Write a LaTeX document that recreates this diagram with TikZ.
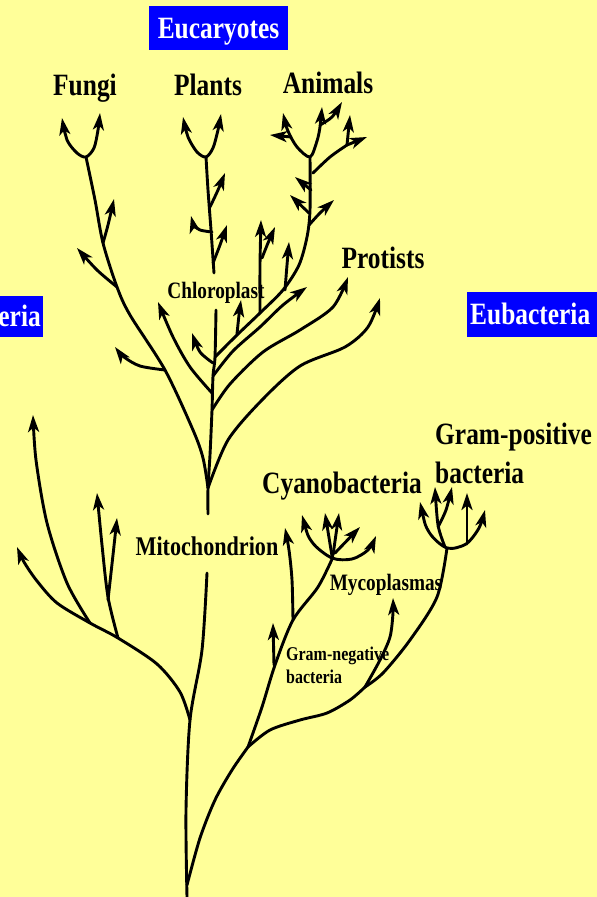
\documentclass[tikz,border=0pt]{standalone}
\usepackage{fontspec}
\setmainfont{Liberation Serif}[FakeStretch=0.82]
\usepackage{tikz}
\usetikzlibrary{arrows.meta}

\definecolor{slideyellow}{RGB}{255,255,153}
\definecolor{titleblue}{RGB}{0,0,255}

\tikzset{
  branch/.style={line width=2.9pt, line cap=round, line join=round},
  twig/.style={branch, -{Stealth[length=17pt,width=11pt,inset=4.5pt]}},
  fork/.style={branch, {Stealth[length=17pt,width=11pt,inset=4.5pt]}-{Stealth[length=17pt,width=11pt,inset=4.5pt]}},
  bigname/.style={font=\fontsize{31}{39}\selectfont\bfseries, inner sep=0pt, anchor=base},
  smallname/.style={font=\fontsize{23.5}{27}\selectfont\bfseries, inner sep=0pt, anchor=base},
  domainbox/.style={fill=titleblue, text=white, font=\fontsize{31}{36}\selectfont\bfseries,
    text height=20.5pt, text depth=0pt, inner ysep=12pt, inner xsep=3pt}
}

\begin{document}
\begin{tikzpicture}[x=1pt,y=-1pt]
\fill[slideyellow] (0,0) rectangle (597,897);
\clip (0,0) rectangle (597,897);

% junctions
\coordinate (root) at (187,897);
\coordinate (archfork) at (190,720);
\coordinate (bactfork) at (248,747);
\coordinate (cyfork) at (293,620);
\coordinate (myfork) at (365,687);
\coordinate (eukfork) at (208,488);
\coordinate (anfork) at (215,357);

% domains
\node[domainbox, minimum width=139pt] (euk) at (218.5,28) {Eucaryotes};
\node[domainbox, anchor=west, text width=124pt, align=left] (eub) at (467,314.5) {Eubacteria};
\fill[titleblue] (0,296) rectangle (43,337);
\node[domainbox, fill=none, anchor=east, inner xsep=0pt] (arc) at (41,316.5) {eria};

% labels
\node[bigname] (fungi) at (85,95) {Fungi};
\node[bigname] (plants) at (208,95) {Plants};
\node[bigname] (animals) at (328,93) {Animals};
\node[bigname] (protists) at (383,268) {Protists};
\node[bigname] (cyano) at (342,493) {Cyanobacteria};
\node[bigname, anchor=north west, align=left] (gpos) at (435,422.5) {Gram-positive\\bacteria};
\node[smallname] (chloro) at (216,298) {Chloroplast};
\node[smallname] (myco) at (386,590) {Mycoplasmas};
\node[smallname, font=\fontsize{27}{30}\selectfont\bfseries] (mito) at (207,555) {Mitochondrion};
\node[smallname, font=\fontsize{19.5}{23}\selectfont\bfseries, anchor=north west, align=left] (gneg) at (286,646.5) {Gram-negative\\bacteria};

% trunk
\draw[branch] plot[smooth] coordinates {(root) (186,810) (archfork) (202,650) (207,573)};
\draw[branch] plot[smooth] coordinates {(208,514) (eukfork) (210,455) (212,410) (213,376) (anfork) (216,310)};
\draw[branch] plot[smooth] coordinates {(214,273) (211,230) (208,190) (206,157)};

% archaebacteria
\draw[twig] plot[smooth] coordinates {(archfork) (180,692) (157,664) (118,638) (90,623) (57,603) (37,581) (24,562) (17,547)};
\draw[twig] plot[smooth] coordinates {(90,623) (67,583) (47,523) (36,460) (33,415)};
\draw[twig] plot[smooth] coordinates {(118,638) (108,597) (102,545) (97,493)};
\draw[twig] plot[smooth] coordinates {(108,600) (113,555) (117,518)};

% eubacteria
\draw[branch] plot[smooth] coordinates {(187,885) (200,838) (215,800) (232,770) (bactfork)};
\draw[branch] plot[smooth] coordinates {(bactfork) (262,707) (275,665) (cyfork) (318,587) (333,557)};
\draw[twig] (274,665) -- (273,623);
\draw[twig] plot[smooth] coordinates {(cyfork) (292,580) (289,550) (285,528)};
\draw[fork] plot[smooth] coordinates {(302,515) (312,542) (332,558) (352,559) (368,550) (376,536)};
\draw[twig] (332,556) -- (325,513);
\draw[twig] (333,555) -- (339,513);
\draw[twig] (335,553) -- (360,527);
\draw[branch] plot[smooth] coordinates {(bactfork) (270,730) (300,720) (327,713) (350,700) (myfork)};
\draw[twig] plot[smooth] coordinates {(myfork) (380,660) (390,637) (393,613) (393,598)};
\draw[branch] plot[smooth] coordinates {(myfork) (383,673) (410,640) (437,597) (447,548)};
\draw[fork] plot[smooth] coordinates {(420,502) (429,532) (447,548) (466,544) (479,528) (485,510)};
\draw[twig] plot[smooth] coordinates {(445,547) (438,525) (435,487)};
\draw[twig] plot[smooth] coordinates {(438,527) (446,510) (452,487)};
\draw[twig] (467,544) -- (467,493);

% fungi
\draw[branch] plot[smooth] coordinates {(eukfork) (203,458) (193,430) (165,370) (130,315) (117,287) (103,243) (95,200) (86,157)};
\draw[fork] plot[smooth] coordinates {(62,118) (67,140) (77,153) (86,157) (94,148) (98,130) (100,113)};
\draw[twig] plot[smooth] coordinates {(103,243) (108,225) (114,199)};
\draw[twig] plot[smooth] coordinates {(117,287) (97,270) (77,248)};
\draw[twig] plot[smooth] coordinates {(165,370) (140,366) (124,357) (115,347)};
\draw[twig] plot[smooth] coordinates {(212,393) (190,367) (173,337) (158,302)};
\draw[twig] plot[smooth] coordinates {(213,363) (200,352) (192,333)};

% plants
\draw[fork] plot[smooth] coordinates {(183,117) (188,137) (197,152) (206,157) (213,148) (218,130) (221,114)};
\draw[twig] plot[smooth] coordinates {(210,207) (218,190) (225,173)};
\draw[twig] plot[smooth] coordinates {(212,232) (200,230) (194,225) (191,216)};
\draw[twig] plot[smooth] coordinates {(213,263) (220,245) (227,225)};

% animals
\draw[branch] plot[smooth] coordinates {(anfork) (237,335) (260,313) (283,290) (299,265) (307,237) (310,210) (310,157)};
\draw[fork] plot[smooth] coordinates {(283,113) (288,131) (297,147) (310,157) (317,141) (320,127) (322,107)};
\draw[twig] (291,137) -- (270,135);
\draw[twig] plot[smooth] coordinates {(320,125) (332,117) (342,102)};
\draw[branch] plot[smooth] coordinates {(313,173) (330,157) (347,145)};
\draw[twig] (347,145) -- (350,115);
\draw[twig] (347,145) -- (367,137);
\draw[twig] (311,190) -- (295,177);
\draw[twig] (309,213) -- (290,195);
\draw[twig] plot[smooth] coordinates {(309,225) (320,213) (334,200)};
\draw[twig] plot[smooth] coordinates {(285,290) (287,265) (289,242)};
\draw[twig] plot[smooth] coordinates {(260,313) (260,265) (261,220)};
\draw[twig] plot[smooth] coordinates {(262,258) (268,243) (275,227)};
\draw[twig] plot[smooth] coordinates {(237,334) (239,315) (241,300)};

% protists
\draw[twig] plot[smooth] coordinates {(213,376) (233,351) (260,327) (283,305) (307,287)};
\draw[twig] plot[smooth] coordinates {(212,410) (230,384) (263,352) (300,330) (333,307) (348,277)};
\draw[twig] plot[smooth] coordinates {(eukfork) (228,440) (262,400) (300,366) (345,347) (368,327) (380,298)};
\end{tikzpicture}
\end{document}
